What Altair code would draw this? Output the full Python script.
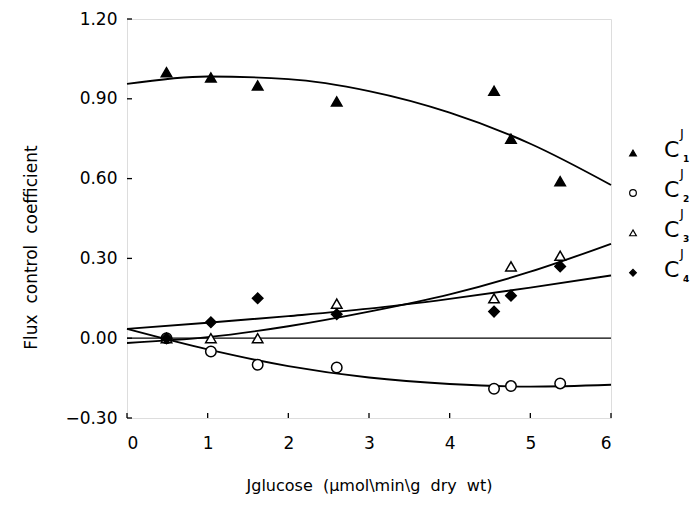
import altair as alt
import pandas as pd

# ---- data ----
series = ["C1", "C2", "C3", "C4"]
subscripts = ["1", "2", "3", "4"]

x_obs = [0.49, 1.04, 1.62, 2.60, 4.55, 4.76, 5.37]
c1_obs = [1.00, 0.98, 0.95, 0.89, 0.93, 0.75, 0.59]
c2_obs = [0.00, -0.05, -0.10, -0.11, -0.19, -0.18, -0.17]
c3_obs = [0.00, 0.00, 0.00, 0.13, 0.15, 0.27, 0.31]
c4_obs = [0.00, 0.06, 0.15, 0.09, 0.10, 0.16, 0.27]

x_fit = [0, 1, 2, 3, 4, 5, 6]
c1_fit = [0.956, 0.984, 0.974, 0.929, 0.848, 0.731, 0.576]
c2_fit = [0.035, -0.042, -0.105, -0.148, -0.172, -0.182, -0.175]
c3_fit = [-0.018, 0.004, 0.045, 0.100, 0.165, 0.250, 0.355]
c4_fit = [0.035, 0.058, 0.083, 0.111, 0.148, 0.190, 0.236]

x_ticks = [0, 1, 2, 3, 4, 5, 6]
y_ticks = [-0.30, 0.00, 0.30, 0.60, 0.90, 1.20]

x_title = "Jglucose\u00a0\u00a0(\u00b5mol\\min\\g\u00a0\u00a0dry\u00a0\u00a0wt)"
y_title = "Flux\u00a0\u00a0control\u00a0\u00a0coefficient"

# ---- tables ----
obs_vals = [c1_obs, c2_obs, c3_obs, c4_obs]
fit_vals = [c1_fit, c2_fit, c3_fit, c4_fit]
obs = pd.DataFrame([
    {"series": s, "x": x, "y": v}
    for s, vals in zip(series, obs_vals) for x, v in zip(x_obs, vals)
])
fit = pd.DataFrame([
    {"series": s, "x": x, "y": v}
    for s, vals in zip(series, fit_vals) for x, v in zip(x_fit, vals)
])
leg = pd.DataFrame({"series": series, "sub": subscripts, "idx": list(range(4))})
xt = pd.DataFrame({"t": x_ticks})
yt = pd.DataFrame({"t": y_ticks})
zero = pd.DataFrame({"y": [0.0]})

W, H = 484, 399
FONT = "DejaVu Sans"

xscale = alt.Scale(domain=[0, 6], nice=False, zero=False)
yscale = alt.Scale(domain=[-0.30, 1.20], nice=False, zero=False)
shape_scale = alt.Scale(domain=series, range=["triangle-up", "circle", "triangle-up", "diamond"])
fill_scale = alt.Scale(domain=series, range=["black", "white", "white", "black"])

xaxis = alt.Axis(values=x_ticks, format="d", title=x_title, grid=False, domain=False,
                 ticks=False, labelFontSize=17, labelPadding=17, labelFont=FONT,
                 labelColor="black", titleFont=FONT, titleFontSize=16,
                 titleFontWeight="normal", titleColor="black", titlePadding=26)
yaxis = alt.Axis(values=y_ticks, format=".2f", title=y_title, grid=False, domain=False,
                 ticks=False, labelFontSize=17, labelPadding=10, labelFont=FONT,
                 labelColor="black", titleFont=FONT, titleFontSize=17,
                 titleFontWeight="normal", titleColor="black", titlePadding=24,
                 titleY=228)

X = lambda f: alt.X(f, scale=xscale, axis=xaxis)
Y = lambda f: alt.Y(f, scale=yscale, axis=yaxis)

lines = alt.Chart(fit).mark_line(color="black", strokeWidth=1.9, interpolate="monotone").encode(
    x=X("x:Q"), y=Y("y:Q"), detail="series:N")

zline = alt.Chart(zero).mark_rule(color="black", strokeWidth=1.3).encode(y=Y("y:Q"))

points = alt.Chart(obs).mark_point(stroke="black", strokeWidth=1.5, opacity=1, size=110).encode(
    x=X("x:Q"), y=Y("y:Q"),
    shape=alt.Shape("series:N", scale=shape_scale, legend=None),
    fill=alt.Fill("series:N", scale=fill_scale, legend=None))

xticks = alt.Chart(xt).mark_rule(color="black", strokeWidth=1.3).encode(
    x=X("t:Q"), y=alt.value(H), y2=alt.value(H - 5))
yticks = alt.Chart(yt).mark_rule(color="black", strokeWidth=1.3).encode(
    y=Y("t:Q"), x=alt.value(0), x2=alt.value(5))

legbase = alt.Chart(leg).transform_calculate(ly="0.696 - 0.15 * datum.idx")
legpts = legbase.mark_point(stroke="black", strokeWidth=1.2, opacity=1, size=45, clip=False).encode(
    x=alt.value(506), y=Y("ly:Q"),
    shape=alt.Shape("series:N", scale=shape_scale, legend=None),
    fill=alt.Fill("series:N", scale=fill_scale, legend=None))
legC = legbase.mark_text(text="C", align="left", baseline="middle", fontSize=22, font=FONT,
                         color="black", dy=-3, clip=False).encode(x=alt.value(537), y=Y("ly:Q"))
legJ = legbase.mark_text(text="J", align="left", baseline="middle", fontSize=13, font=FONT,
                         color="black", dy=-19, clip=False).encode(x=alt.value(553), y=Y("ly:Q"))
legS = legbase.mark_text(align="left", baseline="middle", fontSize=9, font=FONT, fontWeight="bold",
                         color="black", dy=6, clip=False).encode(x=alt.value(556), y=Y("ly:Q"), text="sub:N")

chart = alt.layer(lines, zline, points, xticks, yticks, legpts, legC, legJ, legS).properties(
    width=W, height=H,
    autosize=alt.AutoSizeParams(type="none"),
    padding={"left": 119, "top": 11, "right": 80, "bottom": 81},
).configure_view(stroke="black", strokeWidth=1.5).configure(background="white")

chart.save("out.html", embed_options={"renderer": "svg", "actions": False})
